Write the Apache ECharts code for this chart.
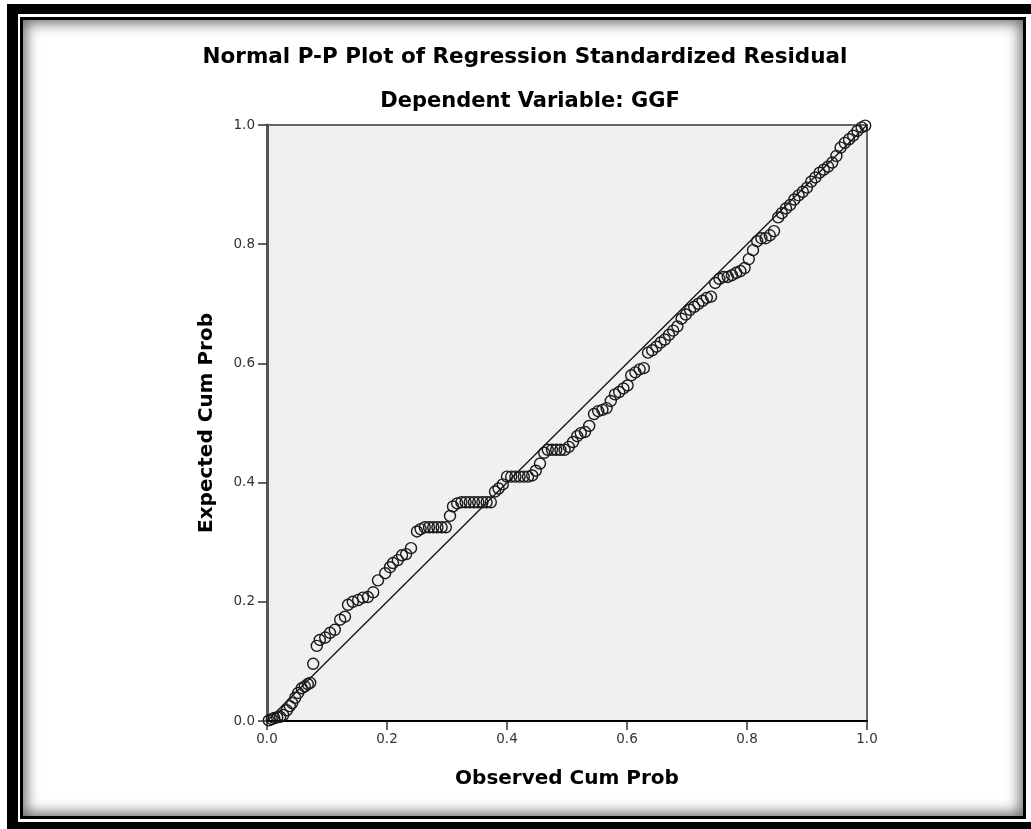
<!DOCTYPE html>
<html>
<head>
<meta charset="utf-8">
<script src="https://cdn.jsdelivr.net/npm/echarts@6/dist/echarts.min.js"></script>
<style>
  html, body { margin: 0; padding: 0; background: #fff; width: 1031px; height: 829px; overflow: hidden; }
  .f { position: absolute; }
  #chart { position: absolute; left: 0; top: 0; width: 1031px; height: 829px; }
</style>
</head>
<body>
<div class="f" style="left:7px;top:4px;width:1024px;height:825px;background:#000"></div>
<div class="f" style="left:18px;top:14px;width:1013px;height:808px;background:#fff"></div>
<div class="f" style="left:20px;top:17px;width:1006px;height:802px;background:#000"></div>
<div class="f" style="left:23px;top:20px;width:1000px;height:796px;background:#fff;box-shadow: inset 0 0 14px 3px rgba(0,0,0,0.6)"></div>
<div id="chart"></div>
<script>
const titleText = "Normal P-P Plot of Regression Standardized Residual";
const subtitleText = "Dependent Variable: GGF";
const xAxisName = "Observed Cum Prob";
const yAxisName = "Expected Cum Prob";
const tickValues = [0, 0.2, 0.4, 0.6, 0.8, 1.0];

const observed = [0.003,0.008,0.012,0.017,0.022,0.027,0.033,0.038,0.042,0.047,0.052,0.058,0.063,0.068,0.072,
0.077,0.083,0.088,0.097,0.105,0.113,0.122,0.13,0.135,0.143,0.152,0.16,0.168,0.177,0.185,0.197,0.205,0.21,
0.218,0.225,0.232,0.24,0.25,0.256,0.263,0.27,0.277,0.284,0.291,0.298,0.305,0.31,0.317,0.324,0.331,0.338,
0.345,0.352,0.359,0.366,0.373,0.38,0.386,0.393,0.4,0.407,0.414,0.421,0.428,0.435,0.442,0.448,0.455,0.462,
0.468,0.475,0.482,0.489,0.496,0.503,0.51,0.517,0.523,0.53,0.537,0.545,0.552,0.559,0.566,0.573,0.58,0.587,
0.594,0.601,0.607,0.614,0.621,0.628,0.635,0.642,0.649,0.656,0.663,0.67,0.677,0.684,0.691,0.698,0.705,0.712,
0.719,0.726,0.733,0.74,0.747,0.754,0.761,0.768,0.775,0.782,0.789,0.796,0.803,0.81,0.817,0.824,0.831,0.838,
0.845,0.852,0.858,0.865,0.872,0.879,0.886,0.893,0.9,0.907,0.914,0.921,0.928,0.935,0.942,0.949,0.956,0.963,
0.97,0.977,0.984,0.991,0.997];
const expected = [0.001,0.003,0.005,0.006,0.007,0.01,0.018,0.025,0.03,0.039,0.047,0.055,0.058,0.062,0.064,
0.096,0.126,0.136,0.14,0.148,0.153,0.17,0.175,0.195,0.2,0.203,0.207,0.208,0.216,0.236,0.248,0.258,0.265,
0.27,0.278,0.28,0.29,0.318,0.322,0.325,0.325,0.325,0.325,0.325,0.325,0.344,0.36,0.365,0.367,0.367,0.367,
0.367,0.367,0.367,0.367,0.367,0.385,0.39,0.397,0.41,0.41,0.41,0.41,0.41,0.41,0.412,0.42,0.432,0.45,
0.455,0.455,0.455,0.455,0.455,0.46,0.468,0.478,0.483,0.485,0.495,0.515,0.52,0.522,0.525,0.537,0.548,0.552,
0.558,0.563,0.58,0.585,0.59,0.592,0.618,0.622,0.628,0.635,0.64,0.648,0.655,0.662,0.675,0.682,0.69,0.695,
0.7,0.705,0.71,0.712,0.735,0.742,0.745,0.745,0.748,0.752,0.755,0.76,0.775,0.79,0.805,0.81,0.81,0.815,
0.822,0.845,0.852,0.86,0.866,0.875,0.882,0.888,0.895,0.905,0.912,0.92,0.925,0.93,0.937,0.948,0.962,0.97,
0.976,0.982,0.99,0.996,0.999];

const points = observed.map((x, i) => [x, expected[i]]);
const refLine = [[0, 0], [1, 1]];

const chart = echarts.init(document.getElementById('chart'), null, { renderer: 'canvas' });
const font = '"DejaVu Sans", Arial, sans-serif';
chart.setOption({
  backgroundColor: 'transparent',
  animation: false,
  graphic: [
    { type: 'text', x: 525, y: 57, style: { text: titleText, x: 0, y: 0, align: 'center', verticalAlign: 'middle',
      font: 'bold 21.5px "DejaVu Sans", Arial, sans-serif', fill: '#000' } },
    { type: 'text', x: 530, y: 102, style: { text: subtitleText, x: 0, y: 0, align: 'center', verticalAlign: 'middle',
      font: 'bold 21px "DejaVu Sans", Arial, sans-serif', fill: '#000' } }
  ],
  grid: { left: 267, right: 164, top: 125, bottom: 108, show: true, backgroundColor: '#f0f0f0',
          borderColor: '#666', borderWidth: 2 },
  xAxis: {
    type: 'value', min: 0, max: 1, interval: 0.2,
    name: xAxisName, nameLocation: 'middle', nameGap: 48,
    nameTextStyle: { fontFamily: font, fontWeight: 'bold', fontSize: 20, color: '#000' },
    axisLine: { show: true, lineStyle: { color: '#000', width: 2 } },
    axisTick: { show: true, length: 9, lineStyle: { color: '#333', width: 1.5 } },
    axisLabel: { fontFamily: font, fontSize: 13.5, color: '#333', margin: 11,
                 formatter: v => v.toFixed(1) },
    splitLine: { show: false }
  },
  yAxis: {
    type: 'value', min: 0, max: 1, interval: 0.2,
    name: yAxisName, nameLocation: 'middle', nameGap: 50, nameRotate: 90,
    nameTextStyle: { fontFamily: font, fontWeight: 'bold', fontSize: 20, color: '#000' },
    axisLine: { show: true, lineStyle: { color: '#555', width: 3 } },
    axisTick: { show: true, length: 9, lineStyle: { color: '#333', width: 1.5 } },
    axisLabel: { fontFamily: font, fontSize: 13.5, color: '#333', margin: 12,
                 formatter: v => v.toFixed(1) },
    splitLine: { show: false }
  },
  series: [
    { type: 'line', data: refLine, symbol: 'none', silent: true,
      lineStyle: { color: '#111', width: 1.3 }, z: 2 },
    { type: 'scatter', data: points, symbol: 'circle', symbolSize: 11,
      itemStyle: { color: 'rgba(0,0,0,0)', borderColor: '#1a1a1a', borderWidth: 1.4, opacity: 1 }, z: 3 }
  ]
});
</script>
</body>
</html>
